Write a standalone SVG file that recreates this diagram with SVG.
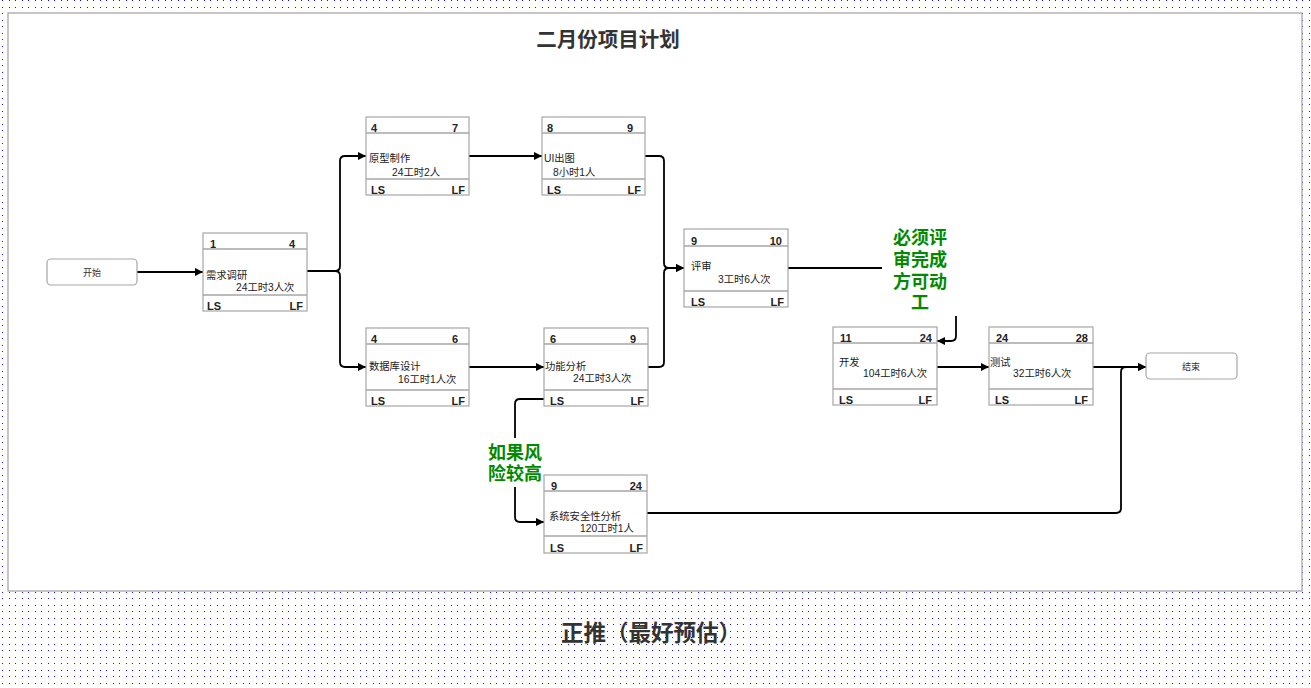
<svg xmlns="http://www.w3.org/2000/svg" width="1311" height="688" viewBox="0 0 1311 688">
<style>
  text { font-family: "Liberation Sans", "Noto Sans CJK SC", sans-serif; }
  .box { fill: #fff; stroke: #a6a6a6; stroke-width: 1.2; }
  .sep { stroke: #a6a6a6; stroke-width: 1.5; }
  .num { font-size: 11px; font-weight: bold; fill: #222; }
  .nm { font-size: 10.3px; fill: #222; }
  .term { fill: #fff; stroke: #a6a6a6; stroke-width: 1.2; }
  .termtxt { font-size: 9px; fill: #333; text-anchor: middle; }
  .edge { fill: none; stroke: #000; stroke-width: 1.8; }
  .green { font-size: 18px; font-weight: bold; fill: #008a00; text-anchor: middle; }
  .title { font-weight: bold; fill: #333; text-anchor: middle; }
</style>
<defs>
  <pattern id="grid" x="2" y="0" width="13" height="13" patternUnits="userSpaceOnUse">
    <rect x="0" y="0" width="1" height="1" fill="#1010ff"/>
    <rect x="7" y="0" width="1" height="1" fill="#1010ff"/>
    <rect x="0" y="7" width="1" height="1" fill="#1010ff"/>
    <rect x="7" y="7" width="1" height="1" fill="#1010ff"/>
  </pattern>
  <marker id="arr" markerUnits="userSpaceOnUse" markerWidth="9" markerHeight="9" refX="8" refY="4.5" orient="auto">
    <path d="M0,0.5 L8,4.5 L0,8.5 z" fill="#000"/>
  </marker>
</defs>
<rect width="1311" height="688" fill="#fff"/>
<rect width="1311" height="688" fill="url(#grid)"/>
<rect x="8" y="13" width="1294" height="578" fill="#fff" stroke="#a0a0a0" stroke-width="1.2"/>

<text class="title" x="608" y="47" font-size="20.5px">二月份项目计划</text>
<text class="title" x="651" y="641" font-size="22.5px">正推（最好预估）</text>

<g id="connectors">
  <path class="edge" marker-end="url(#arr)" d="M137,272 H203"/>
  <path class="edge" marker-end="url(#arr)" d="M307,271 H335 Q340,271 340,266 V161 Q340,156 345,156 H366"/>
  <path class="edge" marker-end="url(#arr)" d="M307,271 H335 Q340,271 340,276 V362 Q340,367 345,367 H366"/>
  <path class="edge" marker-end="url(#arr)" d="M469,156 H542"/>
  <path class="edge" marker-end="url(#arr)" d="M645,156 H659 Q664,156 664,161 V263 Q664,268 669,268 H684"/>
  <path class="edge" marker-end="url(#arr)" d="M469,367 H544"/>
  <path class="edge" marker-end="url(#arr)" d="M648,367 H659 Q664,367 664,362 V273 Q664,268 669,268 H684"/>
  <path class="edge" marker-end="url(#arr)" d="M788,268 H951 Q956,268 956,273 V336 Q956,341 951,341 H937"/>
  <path class="edge" marker-end="url(#arr)" d="M937,367 H989"/>
  <path class="edge" marker-end="url(#arr)" d="M1093,367 H1146"/>
  <path class="edge" marker-end="url(#arr)" d="M647,513 H1116 Q1121,513 1121,508 V372 Q1121,367 1126,367 H1146"/>
  <path class="edge" marker-end="url(#arr)" d="M544,399 H520 Q515,399 515,404 V517 Q515,522 520,522 H544"/>
  <g id="label-review">
    <rect x="882" y="226" width="77" height="90" fill="#fff"/>
    <text class="green" x="920" y="244">必须评</text>
    <text class="green" x="920" y="266">审完成</text>
    <text class="green" x="920" y="288">方可动</text>
    <text class="green" x="920" y="309">工</text>
  </g>
  <g id="label-risk">
    <rect x="486" y="438" width="58" height="49" fill="#fff"/>
    <text class="green" x="515" y="459">如果风</text>
    <text class="green" x="515" y="480">险较高</text>
  </g>
</g>

<g id="start">
  <rect class="term" x="47" y="259" width="90" height="26" rx="4"/>
  <text class="termtxt" x="92" y="276">开始</text>
</g>
<g id="end">
  <rect class="term" x="1146" y="353" width="91" height="26" rx="4"/>
  <text class="termtxt" x="1191" y="370">结束</text>
</g>

<g id="n-xuqiu">
  <rect class="box" x="203" y="233" width="104" height="78"/>
  <line class="sep" x1="203" y1="249" x2="307" y2="249"/>
  <line class="sep" x1="203" y1="295" x2="307" y2="295"/>
  <text class="num" x="210" y="248">1</text>
  <text class="num" x="295" y="248" text-anchor="end">4</text>
  <text class="nm" x="206" y="279">需求调研</text>
  <text class="nm" x="236" y="291">24工时3人次</text>
  <text class="num" x="207" y="310">LS</text>
  <text class="num" x="303" y="310" text-anchor="end">LF</text>
</g>

<g id="n-yuanxing">
  <rect class="box" x="366" y="117" width="103" height="78"/>
  <line class="sep" x1="366" y1="133" x2="469" y2="133"/>
  <line class="sep" x1="366" y1="179" x2="469" y2="179"/>
  <text class="num" x="371" y="132">4</text>
  <text class="num" x="458" y="132" text-anchor="end">7</text>
  <text class="nm" x="369" y="162">原型制作</text>
  <text class="nm" x="392" y="176">24工时2人</text>
  <text class="num" x="371" y="194">LS</text>
  <text class="num" x="465" y="194" text-anchor="end">LF</text>
</g>

<g id="n-ui">
  <rect class="box" x="542" y="117" width="103" height="78"/>
  <line class="sep" x1="542" y1="133" x2="645" y2="133"/>
  <line class="sep" x1="542" y1="179" x2="645" y2="179"/>
  <text class="num" x="547" y="132">8</text>
  <text class="num" x="633" y="132" text-anchor="end">9</text>
  <text class="nm" x="544" y="162">UI出图</text>
  <text class="nm" x="553" y="176">8小时1人</text>
  <text class="num" x="547" y="194">LS</text>
  <text class="num" x="641" y="194" text-anchor="end">LF</text>
</g>

<g id="n-pingshen">
  <rect class="box" x="684" y="229" width="104" height="78"/>
  <line class="sep" x1="684" y1="246" x2="788" y2="246"/>
  <line class="sep" x1="684" y1="291" x2="788" y2="291"/>
  <text class="num" x="691" y="245">9</text>
  <text class="num" x="782" y="245" text-anchor="end">10</text>
  <text class="nm" x="691" y="270">评审</text>
  <text class="nm" x="718" y="283">3工时6人次</text>
  <text class="num" x="691" y="306">LS</text>
  <text class="num" x="784" y="306" text-anchor="end">LF</text>
</g>

<g id="n-shujuku">
  <rect class="box" x="366" y="328" width="103" height="78"/>
  <line class="sep" x1="366" y1="344" x2="469" y2="344"/>
  <line class="sep" x1="366" y1="390" x2="469" y2="390"/>
  <text class="num" x="371" y="343">4</text>
  <text class="num" x="458" y="343" text-anchor="end">6</text>
  <text class="nm" x="369" y="370">数据库设计</text>
  <text class="nm" x="398" y="383">16工时1人次</text>
  <text class="num" x="371" y="405">LS</text>
  <text class="num" x="465" y="405" text-anchor="end">LF</text>
</g>

<g id="n-gongneng">
  <rect class="box" x="544" y="328" width="104" height="78"/>
  <line class="sep" x1="544" y1="344" x2="648" y2="344"/>
  <line class="sep" x1="544" y1="390" x2="648" y2="390"/>
  <text class="num" x="550" y="343">6</text>
  <text class="num" x="636" y="343" text-anchor="end">9</text>
  <text class="nm" x="545" y="370">功能分析</text>
  <text class="nm" x="573" y="382">24工时3人次</text>
  <text class="num" x="550" y="405">LS</text>
  <text class="num" x="644" y="405" text-anchor="end">LF</text>
</g>

<g id="n-anquan">
  <rect class="box" x="544" y="475" width="103" height="78"/>
  <line class="sep" x1="544" y1="491" x2="647" y2="491"/>
  <line class="sep" x1="544" y1="536" x2="647" y2="536"/>
  <text class="num" x="551" y="490">9</text>
  <text class="num" x="642" y="490" text-anchor="end">24</text>
  <text class="nm" x="549" y="520">系统安全性分析</text>
  <text class="nm" x="580" y="532">120工时1人</text>
  <text class="num" x="550" y="552">LS</text>
  <text class="num" x="643" y="552" text-anchor="end">LF</text>
</g>

<g id="n-kaifa">
  <rect class="box" x="833" y="327" width="104" height="78"/>
  <line class="sep" x1="833" y1="343" x2="937" y2="343"/>
  <line class="sep" x1="833" y1="389" x2="937" y2="389"/>
  <text class="num" x="840" y="342">11</text>
  <text class="num" x="932" y="342" text-anchor="end">24</text>
  <text class="nm" x="839" y="366">开发</text>
  <text class="nm" x="863" y="377">104工时6人次</text>
  <text class="num" x="839" y="404">LS</text>
  <text class="num" x="932" y="404" text-anchor="end">LF</text>
</g>

<g id="n-ceshi">
  <rect class="box" x="989" y="327" width="104" height="78"/>
  <line class="sep" x1="989" y1="343" x2="1093" y2="343"/>
  <line class="sep" x1="989" y1="389" x2="1093" y2="389"/>
  <text class="num" x="996" y="342">24</text>
  <text class="num" x="1088" y="342" text-anchor="end">28</text>
  <text class="nm" x="990" y="366">测试</text>
  <text class="nm" x="1013" y="377">32工时6人次</text>
  <text class="num" x="995" y="404">LS</text>
  <text class="num" x="1088" y="404" text-anchor="end">LF</text>
</g>
</svg>
